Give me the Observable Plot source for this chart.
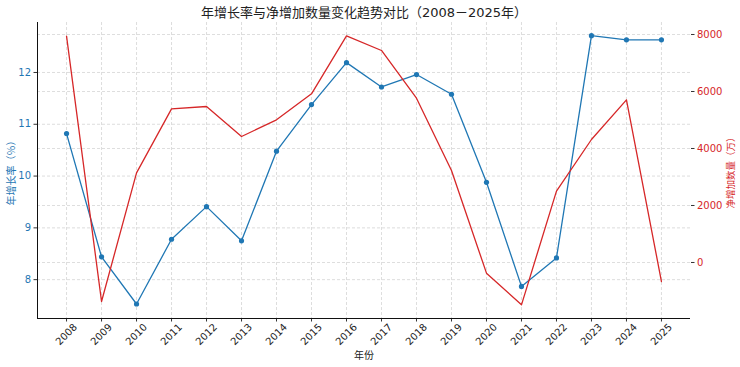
<!DOCTYPE html>
<html>
<head>
<meta charset="utf-8">
<script src="https://cdn.jsdelivr.net/npm/d3@7"></script>
<script src="https://cdn.jsdelivr.net/npm/@observablehq/plot@0.6"></script>
<style>
  html, body { margin: 0; padding: 0; background: #fff; }
</style>
</head>
<body>
<div id="chart"></div>
<script>
const years = [2008, 2009, 2010, 2011, 2012, 2013, 2014, 2015, 2016, 2017, 2018, 2019, 2020, 2021, 2022, 2023, 2024, 2025];
const growthRate = [10.82, 8.44, 7.53, 8.78, 9.41, 8.75, 10.48, 11.38, 12.19, 11.72, 11.96, 11.58, 9.88, 7.87, 8.42, 12.71, 12.63, 12.63];
const netIncrease = [7940, -1368, 3146, 5392, 5474, 4421, 5006, 5918, 7953, 7439, 5766, 3228, -374, -1485, 2503, 4316, 5708, -667];
const leftTicks = [8, 9, 10, 11, 12];
const rightTicks = [0, 2000, 4000, 6000, 8000];

const titleText = "年增长率与净增加数量变化趋势对比（2008－2025年）";
const xLabel = "年份";
const leftLabel = "年增长率（％）";
const rightLabel = "净增加数量（万）";

const blue = "#1f77b4";
const red = "#d62728";

const xDomain = [2007.17, 2025.83];
const yL = [7.25, 12.965];
const yR = [-1965, 8421];
const toL = v => yL[0] + (v - yR[0]) / (yR[1] - yR[0]) * (yL[1] - yL[0]);
const fromL = u => yR[0] + (u - yL[0]) / (yL[1] - yL[0]) * (yR[1] - yR[0]);

const data = years.map((year, i) => ({year, rate: growthRate[i], net: netIncrease[i]}));

const gridStyle = {stroke: "#b0b0b0", strokeOpacity: 0.55, strokeDasharray: "3,2", strokeWidth: 0.8};

const chart = Plot.plot({
  width: 740,
  height: 367,
  marginLeft: 37,
  marginRight: 50,
  marginTop: 22,
  marginBottom: 49,
  style: {fontFamily: "'DejaVu Sans', 'Noto Sans CJK SC', sans-serif", fontSize: "10px", background: "#fff", color: "#222"},
  x: {domain: xDomain},
  y: {domain: yL},
  marks: [
    Plot.gridX(years, gridStyle),
    Plot.gridY(leftTicks, gridStyle),
    Plot.gridY(rightTicks.map(toL), gridStyle),
    Plot.axisX(years, {anchor: "bottom", tickFormat: () => "", tickSize: 3.5, label: null, stroke: "#333"}),
    Plot.text(years, {x: d => d, text: d => String(d), frameAnchor: "bottom", dy: 16, rotate: -45, textAnchor: "middle", lineAnchor: "middle", fill: "#222", fontSize: 10}),
    Plot.axisY(leftTicks, {anchor: "left", tickFormat: "d", tickSize: 3.5, tickPadding: 3, label: null, fill: blue, stroke: "#333"}),
    Plot.axisY(rightTicks.map(toL), {anchor: "right", tickSize: 3.5, tickPadding: 3, label: null, fill: red, stroke: "#333",
      tickFormat: u => String(Math.round(fromL(u)))}),
    Plot.ruleX([xDomain[0]], {stroke: "#111", strokeWidth: 1}),
    Plot.ruleY([yL[0]], {stroke: "#111", strokeWidth: 1}),
    Plot.line(data, {x: "year", y: "rate", stroke: blue, strokeWidth: 1.3}),
    Plot.dot(data, {x: "year", y: "rate", r: 2.6, fill: blue, stroke: "none"}),
    Plot.line(data, {x: "year", y: d => toL(d.net), stroke: red, strokeWidth: 1.3}),
    Plot.text([titleText], {frameAnchor: "top", dy: -10, fontSize: 13, fill: "#222", textAnchor: "middle", lineAnchor: "middle"}),
    Plot.text([xLabel], {frameAnchor: "bottom", dy: 37, fontSize: 10, fill: "#222", textAnchor: "middle", lineAnchor: "middle"}),
    Plot.text([leftLabel], {frameAnchor: "left", dx: -26, rotate: -90, fontSize: 10, fill: blue, textAnchor: "middle", lineAnchor: "middle"}),
    Plot.text([rightLabel], {frameAnchor: "right", dx: 40, rotate: -90, fontSize: 9.5, fill: red, textAnchor: "middle", lineAnchor: "middle"})
  ]
});
document.getElementById("chart").appendChild(chart);
</script>
</body>
</html>
